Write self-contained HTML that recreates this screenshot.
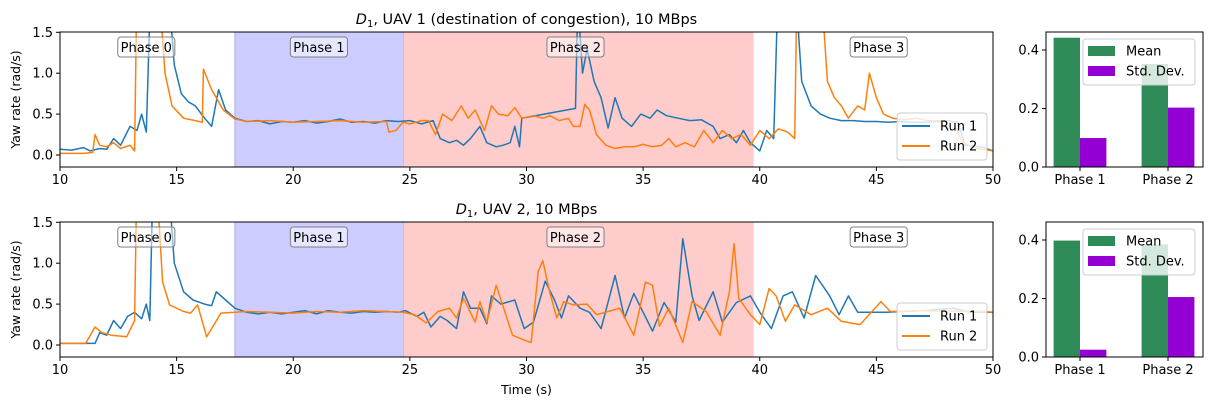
<!DOCTYPE html>
<html><head><meta charset="utf-8"><style>
body{margin:0;background:#fff;}
svg{display:block;font-family:"DejaVu Sans","Liberation Sans",sans-serif;}
</style></head><body>
<svg id="fig" width="1211" height="411" viewBox="0 0 1211 411" xmlns="http://www.w3.org/2000/svg"></svg>
<script>
// ---- data ----
const topRun1T=[10,10.5,11,11.3,11.7,12,12.3,12.6,13,13.3,13.5,13.7,13.9,14.6,14.9,15.2,15.5,15.8,16.2,16.5,16.8,17.1,17.5,18,18.5,19,19.5,20,20.5,21,21.5,22,22.5,23,23.5,24,24.5,25,25.5,26,26.3,26.7,27,27.3,27.6,28,28.3,28.7,29,29.3,29.5,29.7,29.8,32.1,32.2,32.4,32.6,32.9,33.2,33.5,33.8,34.1,34.5,34.9,35.3,35.6,36,36.5,37,37.5,38,38.3,38.7,39,39.3,39.6,40,40.3,40.6,40.8,41.5,41.8,42.2,42.6,43,43.5,44,44.5,45,45.5,46,46.5,47,47.5,48,48.5,48.8,49.5,50];
const topRun1V=[.07,.06,.09,.05,.08,.07,.2,.12,.35,.3,.5,.28,2.2,2.2,1.1,.75,.65,.6,.45,.35,.8,.55,.45,.41,.42,.38,.41,.4,.42,.39,.41,.44,.4,.41,.39,.42,.41,.42,.38,.42,.2,.15,.18,.12,.2,.35,.15,.1,.12,.15,.35,.1,.45,.57,1.9,1.0,1.3,.9,.7,.33,.7,.45,.35,.5,.45,.55,.48,.45,.42,.43,.35,.2,.25,.15,.3,.15,.05,.3,.2,2.2,2.2,.9,.6,.5,.45,.42,.42,.41,.41,.4,.41,.4,.4,.41,.42,.4,.12,.1,.05];
const topRun2T=[10,11,11.4,11.5,11.7,12,12.3,12.6,13,13.2,13.3,14.2,14.5,14.8,15.3,15.8,16.1,16.15,16.5,17,17.5,18,19,20,21,22,23,24,24.1,24.4,24.7,25,25.5,25.8,26.1,26.4,26.8,27.2,27.5,27.8,28.2,28.5,28.8,29.2,29.5,29.8,30.3,30.7,31,31.4,31.8,32,32.3,32.5,32.7,33,33.4,33.8,34.2,34.6,35,35.4,35.8,36.1,36.4,36.8,37.2,37.6,38,38.4,38.8,39.2,39.6,40,40.4,40.8,41.2,41.5,41.6,42.6,42.9,43.2,43.5,43.8,44.2,44.5,44.7,45,45.3,45.7,46.2,46.7,47.2,47.8,48.3,48.7,49.3,50];
const topRun2V=[.02,.02,.03,.25,.12,.1,.15,.08,.12,.05,2.2,2.2,1.0,.6,.45,.42,.4,1.05,.8,.55,.44,.41,.42,.4,.41,.42,.4,.41,.28,.3,.4,.38,.42,.42,.25,.5,.42,.6,.45,.55,.3,.6,.5,.48,.58,.45,.48,.45,.48,.42,.45,.35,.35,.62,.55,.25,.12,.08,.1,.1,.13,.1,.12,.2,.1,.15,.1,.3,.15,.3,.2,.25,.12,.3,.2,.32,.28,.2,2.2,2.2,.9,.7,.6,.45,.6,.55,1.0,.7,.5,.45,.43,.45,.42,.42,.4,.15,.08,.05];
const botRun1T=[10,11.2,11.5,11.7,12,12.3,12.6,12.9,13.2,13.5,13.7,13.85,14,14.6,14.9,15.3,15.7,16.2,16.5,16.7,17.1,17.5,18,18.5,19,19.5,20,20.5,21,21.5,22,22.5,23,23.5,24,24.5,24.8,25.3,25.6,25.9,26.3,26.6,27,27.3,27.6,28,28.3,28.5,28.9,29.5,29.9,30.3,30.8,31.2,31.5,31.8,32.3,32.7,33.2,33.8,34.2,34.6,35.4,35.9,36.4,36.7,37.1,37.4,38,38.4,39,39.6,40,40.5,41,41.4,41.9,42.4,43,43.4,43.8,44.2,45.4,47,48.3,49,50];
const botRun1V=[.02,.02,.02,.15,.12,.3,.2,.35,.4,.32,.5,.3,2.2,2.2,1.0,.65,.55,.5,.48,.65,.55,.45,.4,.38,.4,.38,.4,.42,.38,.42,.4,.39,.41,.4,.41,.4,.42,.35,.4,.22,.35,.3,.2,.65,.45,.45,.26,.6,.5,.55,.2,.28,.78,.55,.33,.6,.45,.4,.2,.85,.33,.63,.17,.52,.28,1.3,.6,.3,.65,.28,.52,.6,.4,.2,.6,.65,.33,.85,.6,.37,.6,.4,.4,.42,.45,.4,.4];
const botRun2T=[10,11.1,11.5,11.8,12.2,12.86,13.2,13.3,14.1,14.4,14.7,15.3,15.6,15.9,16.29,16.9,17.5,18,19,20,21,22,23,24,24.7,25.2,25.7,26.2,26.7,27,27.3,27.8,28.0,28.3,28.7,29.4,29.9,30.2,30.5,30.7,31.0,31.3,31.6,32.0,32.6,33.0,33.5,34.0,34.6,35.1,35.4,35.7,36.1,36.7,37.1,37.7,38.3,38.7,38.9,39.1,39.6,40.0,40.4,40.7,41.1,41.5,42.2,42.9,43.5,44.3,45.2,45.6,47,49.7,50];
const botRun2V=[.02,.02,.22,.15,.12,.1,.3,2.2,2.2,.77,.49,.41,.39,.49,.1,.39,.4,.41,.4,.39,.41,.4,.42,.41,.4,.37,.27,.41,.45,.33,.57,.28,.53,.28,.73,.12,.06,.03,.9,1.03,.64,.33,.53,.49,.5,.37,.41,.45,.12,.77,.73,.23,.45,.03,.53,.41,.12,.65,1.24,.57,.37,.25,.69,.6,.29,.49,.37,.45,.29,.25,.53,.41,.42,.41,.4];
const barCats=["Phase 1","Phase 2"];
const topMean=[.442,.352], topStd=[.099,.203];
const botMean=[.398,.385], botStd=[.025,.205];
const xTicks=[10,15,20,25,30,35,40,45,50];
const yTicks=[0,0.5,1,1.5];
const barYTicks=[0,0.2,0.4];
const phases=[["Phase 0",13.7],["Phase 1",21.1],["Phase 2",32.1],["Phase 3",45.1]];
const phase1Span=[17.5,24.74], phase2Span=[24.74,39.74];

const svg=document.getElementById('fig');
const NS="http://www.w3.org/2000/svg";
function mk(tag,attrs,parent,txt){const e=document.createElementNS(NS,tag);for(const k in attrs)e.setAttribute(k,attrs[k]);if(txt!==undefined)e.textContent=txt;(parent||svg).appendChild(e);return e;}

function linePanel(top,idx,title,r1T,r1V,r2T,r2V,showXLabel){
  const L=60,R=993,T=top,B=top+135;
  const x=t=>L+(t-10)/40*(R-L);
  const y0=T+123, ppu=81.8;
  const y=v=>y0-v*ppu;
  const g=mk('g',{});
  
  
  const cp=mk('clipPath',{id:'cp'+idx},g);mk('rect',{x:L,y:T,width:R-L,height:B-T},cp);
  const s1=mk('rect',{x:x(phase1Span[0]),y:T,width:x(phase1Span[1])-x(phase1Span[0]),height:B-T,fill:'#ccccff',stroke:'#a9a9ee','stroke-width':1},g);
  
  const s2=mk('rect',{x:x(phase2Span[0]),y:T,width:x(phase2Span[1])-x(phase2Span[0]),height:B-T,fill:'#ffcccc'},g);
  
  [[r1T,r1V,'#1f77b4','run1'],[r2T,r2V,'#ff7f0e','run2']].forEach(([ts,vs,c,n])=>{
    const p=mk('polyline',{points:ts.map((t,i)=>x(t).toFixed(1)+','+y(vs[i]).toFixed(1)).join(' '),fill:'none',stroke:c,'stroke-width':1.5,'clip-path':'url(#cp'+idx+')','stroke-linejoin':'round'},g);
    
  });
  phases.forEach(([lab,t])=>{
    const w=lab.length*7.3+6;
    const b=mk('rect',{x:x(t)-w/2,y:T+5,width:w,height:20,rx:3,fill:'rgba(255,255,255,0.5)',stroke:'#808080'},g);
    
    const tx=mk('text',{x:x(t),y:T+20,'text-anchor':'middle','font-size':13},g,lab);
    
  });
  mk('rect',{x:L,y:T,width:R-L,height:B-T,fill:'none',stroke:'#000','stroke-width':1},g);
  xTicks.forEach(t=>{mk('line',{x1:x(t),x2:x(t),y1:B,y2:B+4,stroke:'#000'},g);
    const tx=mk('text',{x:x(t),y:B+17,'text-anchor':'middle','font-size':13},g,t);
    });
  yTicks.forEach(v=>{mk('line',{x1:L-4,x2:L,y1:y(v),y2:y(v),stroke:'#000'},g);
    const tx=mk('text',{x:L-7,y:y(v)+4.5,'text-anchor':'end','font-size':13},g,v.toFixed(1));
    });
  const yl=mk('text',{x:20,y:(T+B)/2,'text-anchor':'middle','font-size':12.5,transform:'rotate(-90 20 '+(T+B)/2+')'},g,'Yaw rate (rad/s)');
  
  const tt=mk('text',{x:(L+R)/2,y:T-8,'text-anchor':'middle','font-size':14.5},g);
  
  mk('tspan',{'font-style':'italic'},tt,'D');mk('tspan',{'font-size':10,dy:3},tt,'1');mk('tspan',{dy:-3},tt,title);
  // legend
  const lg=mk('g',{},g);
  mk('rect',{x:897,y:T+81,width:90,height:47,rx:3,fill:'rgba(255,255,255,0.8)',stroke:'#ccc'},lg);
  [['Run 1','#1f77b4'],['Run 2','#ff7f0e']].forEach(([n,c],i)=>{
    const yy=T+94+i*20;
    mk('line',{x1:902,x2:930,y1:yy,y2:yy,stroke:c,'stroke-width':2},lg);
    const tx=mk('text',{x:940,y:yy+4.5,'font-size':13},lg,n);
    
  });
  if(showXLabel){const xl=mk('text',{x:(L+R)/2,y:B+37,'text-anchor':'middle','font-size':12.5},g,'Time (s)');
    }
}

function barPanel(top,idx,mean,std){
  const L=1046,R=1203,T=top,B=top+135;
  const ppu=292.5;
  const y=v=>B-v*ppu;
  const cx=i=>1080+i*88;
  const bw=26.4;
  const g=mk('g',{});
  barCats.forEach((c,i)=>{
    const b1=mk('rect',{x:cx(i)-bw,y:y(mean[i]),width:bw,height:mean[i]*ppu,fill:'#2e8b57'},g);
    
    const b2=mk('rect',{x:cx(i),y:y(std[i]),width:bw,height:std[i]*ppu,fill:'#9400d3'},g);
    
    mk('line',{x1:cx(i),x2:cx(i),y1:B,y2:B+4,stroke:'#000'},g);
    const tx=mk('text',{x:cx(i),y:B+17,'text-anchor':'middle','font-size':13},g,c);
    
  });
  mk('rect',{x:L,y:T,width:R-L,height:B-T,fill:'none',stroke:'#000'},g);
  barYTicks.forEach(v=>{mk('line',{x1:L-4,x2:L,y1:y(v),y2:y(v),stroke:'#000'},g);
    const tx=mk('text',{x:L-7,y:y(v)+4.5,'text-anchor':'end','font-size':13},g,v.toFixed(1));
    });
  const lg=mk('g',{},g);
  mk('rect',{x:1083,y:T+7,width:112,height:46,rx:3,fill:'rgba(255,255,255,0.8)',stroke:'#ccc'},lg);
  [['Mean','#2e8b57'],['Std. Dev.','#9400d3']].forEach(([n,c],i)=>{
    const yy=T+19+i*20;
    mk('rect',{x:1088,y:yy-5,width:27,height:10,fill:c},lg);
    const tx=mk('text',{x:1126,y:yy+4.5,'font-size':13},lg,n);
    
  });
}

linePanel(32,1,', UAV 1 (destination of congestion), 10 MBps',topRun1T,topRun1V,topRun2T,topRun2V,false);
linePanel(222,2,', UAV 2, 10 MBps',botRun1T,botRun1V,botRun2T,botRun2V,true);
barPanel(32,1,topMean,topStd);
barPanel(222,2,botMean,botStd);
</script>
</body></html>
